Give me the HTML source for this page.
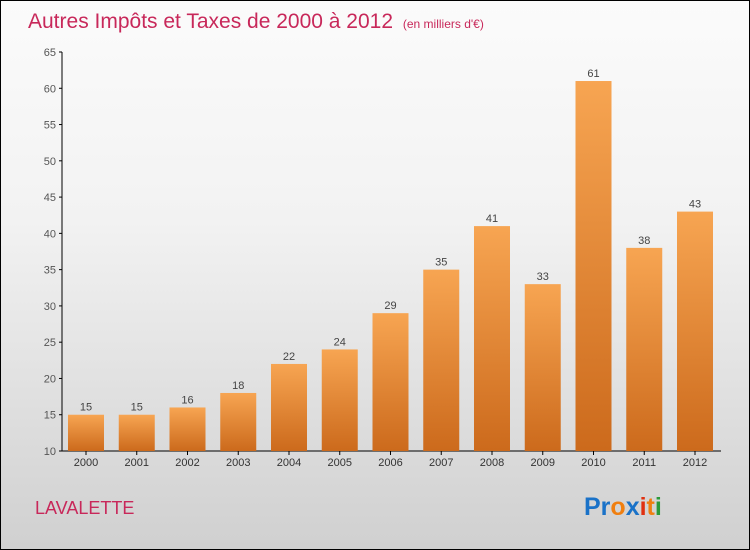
<!DOCTYPE html>
<html><head><meta charset="utf-8"><style>
body{margin:0}
#c{position:relative;width:748px;height:548px;border:1px solid #000;background:linear-gradient(#fbfbfb,#f2f2f2 40%,#d0d0d0);font-family:"Liberation Sans",sans-serif;overflow:hidden}
</style></head><body>
<div id="c">
<svg width="748" height="548" style="position:absolute;left:0;top:0">
<defs><linearGradient id="g" x1="0" y1="0" x2="0" y2="1"><stop offset="0" stop-color="#f7a552"/><stop offset="1" stop-color="#cc6a1c"/></linearGradient></defs>
<text x="27" y="27" font-size="21" fill="#c8285a">Autres Impôts et Taxes de 2000 à 2012 <tspan font-size="12" dx="4">(en milliers d'€)</tspan></text>
<g id="axes"></g><g id="bars"></g>
<text x="34" y="513" font-size="18" fill="#c8285a">LAVALETTE</text>
<text x="583" y="514" font-size="25" font-weight="bold"><tspan fill="#1a72c8">Pr</tspan><tspan fill="#f07f10">o</tspan><tspan fill="#1a72c8">x</tspan><tspan fill="#e03010">i</tspan><tspan fill="#f07f10">t</tspan><tspan fill="#2a9a3a">i</tspan></text>
</svg>
</div>
<script>
const years=["2000","2001","2002","2003","2004","2005","2006","2007","2008","2009","2010","2011","2012"];
const values=[15,15,16,18,22,24,29,35,41,33,61,38,43];
const yTicks=[10,15,20,25,30,35,40,45,50,55,60,65];
const ns="http://www.w3.org/2000/svg";
const y=v=>450-(v-10)*(399/55);
const x=i=>85+i*50.75;
function mk(t,a,p){const e=document.createElementNS(ns,t);for(const k in a)e.setAttribute(k,a[k]);p.appendChild(e);return e;}
const ax=document.getElementById('axes'),bs=document.getElementById('bars');
const yl=mk('line',{x1:61,x2:61,y1:y(65),y2:450,stroke:'#000'},ax);


const xl=mk('line',{x1:61,x2:720,y1:450,y2:450,stroke:'#000'},ax);


yTicks.forEach(v=>{
 mk('line',{x1:58,x2:61,y1:y(v),y2:y(v),stroke:'#000'},ax);
 const t=mk('text',{x:55,y:y(v)+4,'text-anchor':'end','font-size':11,fill:'#555'},ax);t.textContent=v;
 
 
});
years.forEach((yr,i)=>{
 const cx=x(i),v=values[i];
 const r=mk('rect',{x:cx-18,y:y(v),width:36,height:450-y(v),fill:'url(#g)'},bs);
 
 
 const l=mk('text',{x:cx,y:y(v)-4,'text-anchor':'middle','font-size':11,fill:'#444'},bs);l.textContent=v;
 
 
 mk('line',{x1:cx,x2:cx,y1:450,y2:454,stroke:'#000'},ax);
 const t=mk('text',{x:cx,y:465,'text-anchor':'middle','font-size':11,fill:'#333'},ax);t.textContent=yr;
 
 
});
</script>
</body></html>
